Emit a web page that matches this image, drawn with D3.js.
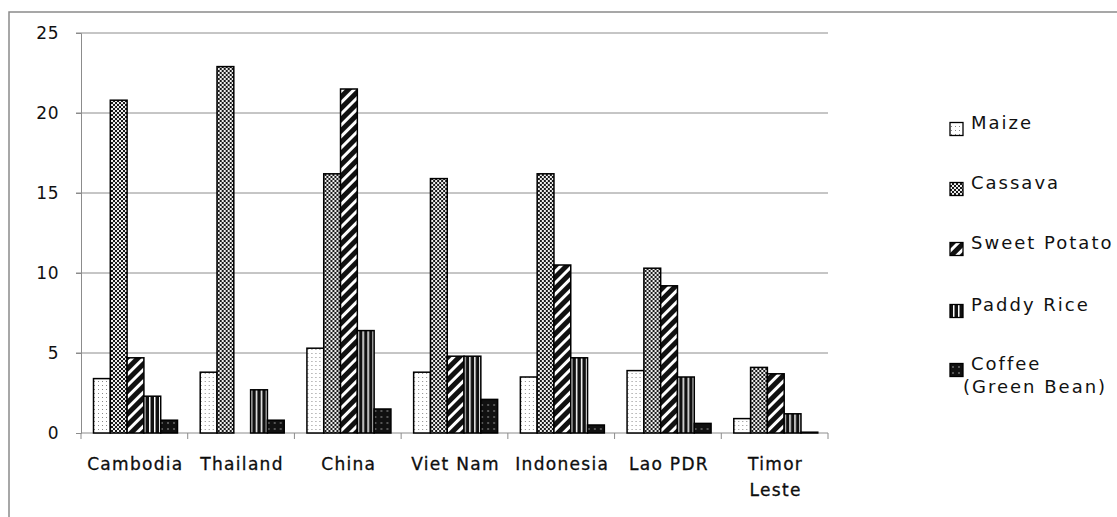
<!DOCTYPE html>
<html>
<head>
<meta charset="utf-8">
<script src="https://cdn.jsdelivr.net/npm/d3@7"></script>
<style>
  html, body { margin: 0; padding: 0; background: #fff; }
  svg { display: block; }
  text { font-family: "DejaVu Sans", Verdana, sans-serif; fill: #111; }
</style>
</head>
<body>
<svg id="chart" width="1117" height="517"></svg>
<script>
const categories = ["Cambodia", "Thailand", "China", "Viet Nam", "Indonesia", "Lao PDR", "Timor Leste"];
const seriesNames = ["Maize", "Cassava", "Sweet Potato", "Paddy Rice", "Coffee (Green Bean)"];
const maize       = [3.4, 3.8, 5.3, 3.8, 3.5, 3.9, 0.9];
const cassava     = [20.8, 22.9, 16.2, 15.9, 16.2, 10.3, 4.1];
const sweetPotato = [4.7, 0, 21.5, 4.8, 10.5, 9.2, 3.7];
const paddyRice   = [2.3, 2.7, 6.4, 4.8, 4.7, 3.5, 1.2];
const coffee      = [0.8, 0.8, 1.5, 2.1, 0.5, 0.6, 0.05];
const yTicks = [0, 5, 10, 15, 20, 25];

const seriesValues = [maize, cassava, sweetPotato, paddyRice, coffee];
const patternIds = ["pMaize", "pCassava", "pSweet", "pPaddy", "pCoffee"];

const svg = d3.select("#chart");
const defs = svg.append("defs");

// Maize: white with grey dots
let p = defs.append("pattern").attr("id", "pMaize").attr("patternUnits", "userSpaceOnUse").attr("width", 4).attr("height", 4);
p.append("rect").attr("width", 4).attr("height", 4).attr("fill", "#fff");
p.append("rect").attr("x", 1).attr("y", 1).attr("width", 1).attr("height", 1).attr("fill", "#888");
// Cassava: fine checker
p = defs.append("pattern").attr("id", "pCassava").attr("patternUnits", "userSpaceOnUse").attr("width", 4).attr("height", 4);
p.append("rect").attr("width", 4).attr("height", 4).attr("fill", "#eee");
p.append("rect").attr("x", 0).attr("y", 0).attr("width", 2).attr("height", 2).attr("fill", "#1a1a1a");
p.append("rect").attr("x", 2).attr("y", 2).attr("width", 2).attr("height", 2).attr("fill", "#1a1a1a");
// Sweet potato: black with white diagonal stripes
p = defs.append("pattern").attr("id", "pSweet").attr("patternUnits", "userSpaceOnUse").attr("width", 8).attr("height", 8).attr("patternTransform", "rotate(45)");
p.append("rect").attr("width", 8).attr("height", 8).attr("fill", "#111");
p.append("rect").attr("x", 0).attr("width", 3).attr("height", 8).attr("fill", "#fff");
// Paddy rice: black with white vertical lines
p = defs.append("pattern").attr("id", "pPaddy").attr("patternUnits", "userSpaceOnUse").attr("width", 5).attr("height", 5);
p.append("rect").attr("width", 5).attr("height", 5).attr("fill", "#111");
p.append("rect").attr("x", 3).attr("width", 1.5).attr("height", 5).attr("fill", "#fff");
// Coffee: black with grey dots
p = defs.append("pattern").attr("id", "pCoffee").attr("patternUnits", "userSpaceOnUse").attr("width", 6).attr("height", 6);
p.append("rect").attr("width", 6).attr("height", 6).attr("fill", "#111");
p.append("rect").attr("x", 2).attr("y", 2).attr("width", 2).attr("height", 2).attr("fill", "#555");

// Outer border
svg.append("rect").attr("x", 9).attr("y", 12).attr("width", 1130).attr("height", 530)
  .attr("fill", "none").attr("stroke", "#8a8a8a").attr("stroke-width", 1.5);

const plotLeft = 81, plotRight = 828, plotTop = 33, plotBottom = 433;
const x0 = d3.scaleBand().domain(categories).range([plotLeft, plotRight]).padding(0);
const x1 = d3.scaleBand().domain(seriesNames).range([12.5, 96.5]).padding(0);
const y = d3.scaleLinear().domain([0, 25]).range([plotBottom, plotTop]);

// Gridlines
svg.append("g").selectAll("line").data(yTicks.filter(d => d > 0)).join("line")
  .attr("x1", plotLeft - 5).attr("x2", plotRight)
  .attr("y1", d => y(d)).attr("y2", d => y(d))
  .attr("stroke", "#8c8c8c").attr("stroke-width", 1);

// Y axis
const yAxis = d3.axisLeft(y).tickValues(yTicks).tickSize(5).tickPadding(17);
const gy = svg.append("g").attr("transform", `translate(${plotLeft},0)`).call(yAxis);
gy.select(".domain").attr("stroke", "#8c8c8c");
gy.selectAll(".tick line").attr("stroke", "#8c8c8c");
gy.selectAll(".tick text").attr("font-size", 17).attr("font-family", "DejaVu Sans").attr("fill", "#000")
  .attr("letter-spacing", 0.5);

// X axis
const gx = svg.append("g").attr("transform", `translate(0,${plotBottom})`);
gx.append("line").attr("x1", plotLeft).attr("x2", plotRight).attr("y1", 0).attr("y2", 0).attr("stroke", "#8c8c8c");
gx.selectAll("line.tk").data(categories.concat(["_end"])).join("line").attr("class", "tk")
  .attr("x1", (d, i) => plotLeft + i * x0.bandwidth()).attr("x2", (d, i) => plotLeft + i * x0.bandwidth())
  .attr("y1", 0).attr("y2", 6).attr("stroke", "#8c8c8c");

// Bars
const groups = svg.append("g").selectAll("g").data(categories).join("g")
  .attr("transform", d => `translate(${x0(d)},0)`);
groups.selectAll("rect")
  .data((c, ci) => seriesNames.map((s, si) => ({ s, si, v: seriesValues[si][ci] })).filter(d => d.v > 0))
  .join("rect")
  .attr("x", d => x1(d.s))
  .attr("y", d => y(d.v))
  .attr("width", x1.bandwidth())
  .attr("height", d => y(0) - y(d.v))
  .attr("fill", d => `url(#${patternIds[d.si]})`)
  .attr("stroke", "#000").attr("stroke-width", 1.5);

// Category labels
svg.append("g").selectAll("text").data(categories).join("text")
  .attr("x", d => x0(d) + x0.bandwidth() / 2 + 1)
  .attr("y", 470)
  .attr("text-anchor", "middle")
  .attr("font-size", 17)
  .attr("letter-spacing", 1.3)
  .attr("fill", "#000")
  .attr("stroke", "#000").attr("stroke-width", 0.3)
  .each(function(d) {
    const parts = d === "Timor Leste" ? ["Timor", "Leste"] : [d];
    d3.select(this).selectAll("tspan").data(parts).join("tspan")
      .attr("x", x0(d) + x0.bandwidth() / 2 + 1)
      .attr("dy", (t, i) => i === 0 ? 0 : 26)
      .text(t => t);
  });

// Legend
const legendY = [129, 189, 249, 311, 370];
const lg = svg.append("g").selectAll("g").data(seriesNames).join("g")
  .attr("transform", (d, i) => `translate(950,${legendY[i]})`);
lg.append("rect").attr("x", 0).attr("y", -6.5).attr("width", 13).attr("height", 13)
  .attr("fill", (d, i) => `url(#${patternIds[i]})`).attr("stroke", "#000").attr("stroke-width", 1.3);
lg.append("text").attr("x", 21).attr("y", 0).attr("dy", "0.35em")
  .attr("font-size", 18).attr("letter-spacing", 2).attr("fill", "#2a2a2a")
  .each(function(d) {
    const parts = d === "Coffee (Green Bean)" ? ["Coffee", "(Green Bean)"] : [d];
    d3.select(this).selectAll("tspan").data(parts).join("tspan")
      .attr("x", (t, i) => i === 0 ? 21 : 13)
      .attr("dy", (t, i) => i === 0 ? 0 : 23)
      .text(t => t);
  });
</script>
</body>
</html>
